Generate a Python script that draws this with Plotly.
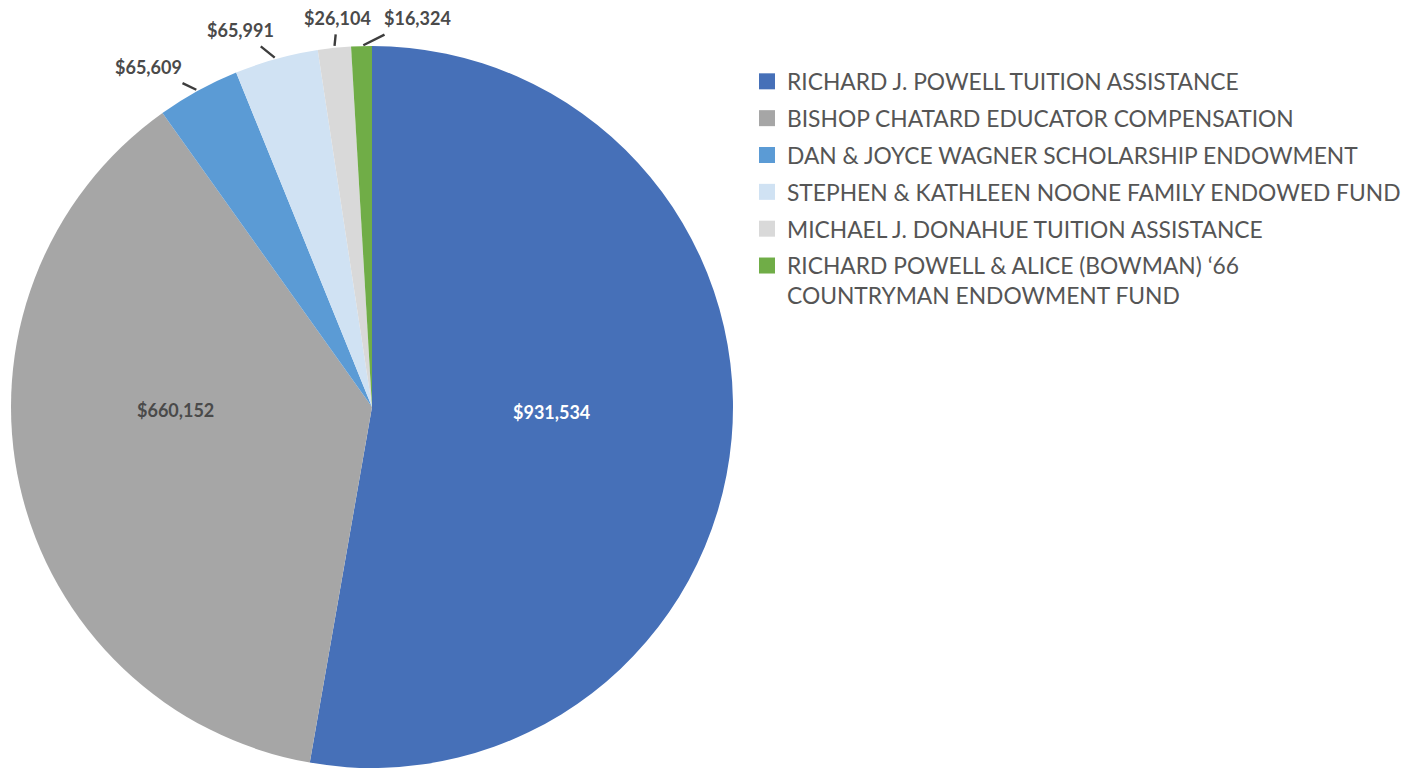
import math
import plotly.graph_objects as go

labels = [
    "RICHARD J. POWELL TUITION ASSISTANCE",
    "BISHOP CHATARD EDUCATOR COMPENSATION",
    "DAN &amp; JOYCE WAGNER SCHOLARSHIP ENDOWMENT",
    "STEPHEN &amp; KATHLEEN NOONE FAMILY ENDOWED FUND",
    "MICHAEL J. DONAHUE TUITION ASSISTANCE",
    "RICHARD POWELL &amp; ALICE (BOWMAN) \u201866<br>COUNTRYMAN ENDOWMENT FUND",
]
values = [931534, 660152, 65609, 65991, 26104, 16324]
colors = ["#4670B8", "#A6A6A6", "#5B9BD5", "#D0E2F3", "#D9D9D9", "#70AD47"]

# styling / layout (page has an 8px body margin)
W, H = 1416, 768
OFF = 8
PIE_LEFT, PIE_RIGHT, PIE_TOP, PIE_BOTTOM = 11 - OFF, 733 - OFF, 46 - OFF, 768 - OFF
text_dark = "#4a4a4a"
label_colors = ["white", text_dark, text_dark, text_dark, text_dark, text_dark]
# label placement: (radius fraction, x offset px, y offset px, leader line?)
label_place = [
    (0.5, 0, -11, False),
    (0.55, -3, -41, False),
    (1.0, -50, -24, True),
    (1.0, -36, -29, True),
    (1.0, 3, -30, True),
    (1.0, 56, -28, True),
]

fig = go.Figure()
fig.add_trace(go.Pie(
    labels=labels,
    values=values,
    sort=False,
    direction="clockwise",
    rotation=0,
    marker=dict(colors=colors, line=dict(width=0)),
    textinfo="none",
    showlegend=False,
    hoverinfo="label+value",
    domain=dict(x=[PIE_LEFT / W, PIE_RIGHT / W], y=[1 - PIE_BOTTOM / H, 1 - PIE_TOP / H]),
))

# legend entries via invisible scatter traces (one group each for spacing)
for i, (lab, col) in enumerate(zip(labels, colors)):
    fig.add_trace(go.Scatter(
        x=[None], y=[None], mode="markers",
        marker=dict(symbol="square", size=16, color=col),
        name=lab, legendgroup=f"g{i}", showlegend=True,
    ))

# value labels, placed from the slice angles
total = sum(values)
cx = (PIE_LEFT + PIE_RIGHT) / 2
cy = (PIE_TOP + PIE_BOTTOM) / 2
R = min(PIE_RIGHT - PIE_LEFT, PIE_BOTTOM - PIE_TOP) / 2
cum = 0
for v, col, (rf, dx, dy, leader) in zip(values, label_colors, label_place):
    mid = (cum + v / 2) / total * 2 * math.pi
    cum += v
    px = cx + rf * R * math.sin(mid)
    py = cy - rf * R * math.cos(mid)
    font = dict(family="Lato", size=18, color=col, weight="bold")
    if leader:
        fig.add_annotation(
            x=px / W, y=1 - py / H, xref="paper", yref="paper",
            text=f"${v:,}", showarrow=True, arrowhead=0, arrowwidth=2.4,
            arrowcolor="#3d3d3d", ax=dx, ay=dy, standoff=2, borderpad=5,
            font=font,
        )
    else:
        fig.add_annotation(
            x=px / W, y=1 - py / H, xref="paper", yref="paper",
            xanchor="center", yanchor="middle",
            text=f"${v:,}", showarrow=False, xshift=dx, yshift=-dy,
            font=font,
        )

fig.update_layout(
    width=W, height=H,
    margin=dict(l=0, r=0, t=0, b=0),
    paper_bgcolor="white", plot_bgcolor="white",
    xaxis=dict(visible=False), yaxis=dict(visible=False),
    legend=dict(
        x=(747 - OFF) / W, y=1 - (60 - OFF) / H, xanchor="left", yanchor="top",
        font=dict(family="Lato", size=22.8, color="#555555"),
        tracegroupgap=4.2, valign="top", itemclick=False,
    ),
)

fig.write_html("out.html")
